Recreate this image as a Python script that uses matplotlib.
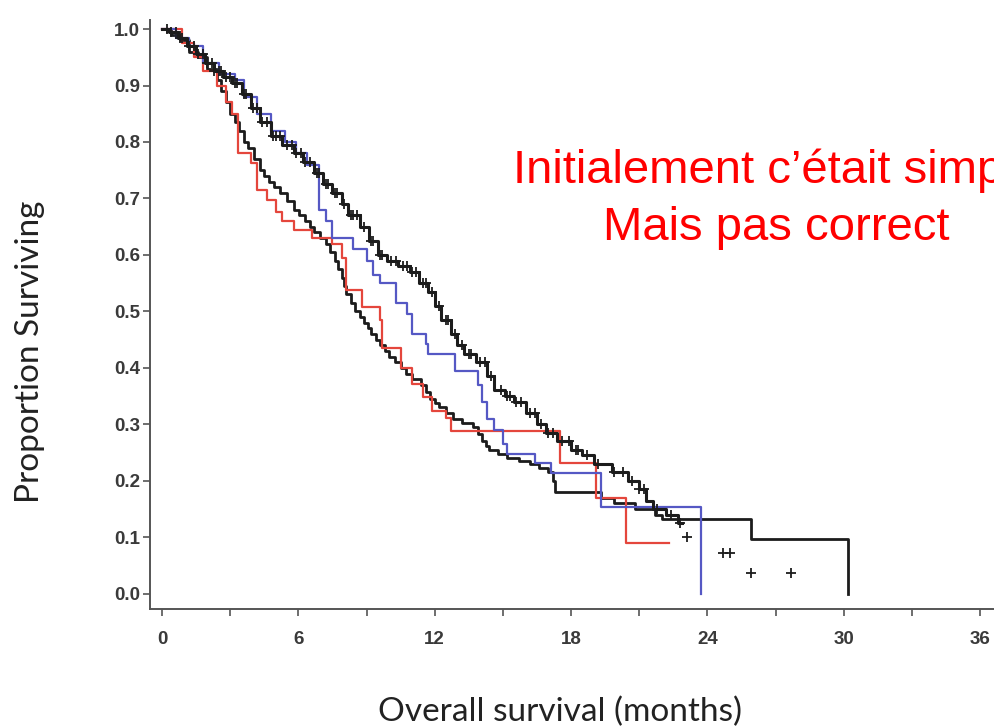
import matplotlib
matplotlib.use("Agg")
import matplotlib.pyplot as plt
import numpy as np

RED = "#e4463c"
BLUE = "#5558c4"
BLACK = "#1c1c1c"
AXIS = "#555555"
TICKTXT = "#3a3a3a"

# Kaplan-Meier curves: (time in months, survival after step)
upper_t = [0, 0.3, 0.7, 1.1, 1.5, 1.9, 2.3, 2.7, 3.1, 3.5, 3.9, 4.3, 4.8, 5.3, 5.8,
           6.2, 6.7, 7.1, 7.5, 7.9, 8.2, 8.7, 9.1, 9.5, 9.9, 10.4, 10.9, 11.3, 11.7,
           12.0, 12.3, 12.7, 13.0, 13.3, 13.8, 14.3, 14.6, 15.1, 15.5, 16.0, 16.5,
           16.9, 17.4, 18.0, 18.5, 19.0, 19.8, 20.5, 21.0, 21.3, 21.6, 22.2, 22.7, 22.9]
upper_s = [1.0, 0.995, 0.985, 0.97, 0.955, 0.94, 0.925, 0.915, 0.905, 0.885, 0.86,
           0.835, 0.81, 0.795, 0.78, 0.765, 0.745, 0.725, 0.71, 0.69, 0.67, 0.65,
           0.625, 0.60, 0.59, 0.58, 0.57, 0.55, 0.535, 0.51, 0.485, 0.46, 0.44,
           0.425, 0.41, 0.385, 0.36, 0.35, 0.34, 0.32, 0.30, 0.285, 0.27, 0.255,
           0.245, 0.23, 0.215, 0.20, 0.185, 0.165, 0.15, 0.14, 0.125, 0.125]
upper_cens = [0.2, 0.4, 0.6, 0.8, 0.9, 1.2, 1.4, 1.6, 1.8, 2.0, 2.2, 2.3, 2.5, 2.6,
              2.8, 3.0, 3.2, 3.3, 3.6, 3.7, 4.0, 4.2, 4.4, 4.6, 4.9, 5.0, 5.2, 5.5,
              5.7, 5.9, 6.1, 6.3, 6.5, 6.8, 6.9, 7.2, 7.3, 7.6, 7.7, 8.0, 8.3, 8.4,
              8.6, 8.9, 9.2, 9.3, 9.6, 9.7, 10.1, 10.3, 10.6, 10.8, 11.0, 11.2, 11.5,
              11.6, 11.9, 12.2, 12.5, 12.6, 12.9, 13.2, 13.5, 13.6, 14.0, 14.2, 14.5,
              14.9, 15.2, 15.3, 15.6, 15.8, 16.2, 16.4, 16.7, 17.0, 17.2, 17.6, 17.9,
              18.2, 18.3, 18.7, 19.2, 19.9, 20.3, 20.7, 21.0, 21.2, 21.8, 22.4, 22.8]
tail_cens_t = [23.1, 24.7, 25.0, 25.9, 27.7]
tail_cens_s = [0.10, 0.073, 0.073, 0.037, 0.037]

lower_t = [0, 0.4, 0.8, 1.2, 1.6, 2.0, 2.4, 2.6, 2.8, 3.0, 3.2, 3.4, 3.6, 3.8, 4.05,
           4.3, 4.5, 4.7, 4.95, 5.2, 5.5, 5.8, 6.05, 6.3, 6.5, 6.7, 6.95, 7.2, 7.4,
           7.6, 7.75, 7.9, 8.0, 8.1, 8.3, 8.5, 8.7, 8.9, 9.05, 9.2, 9.4, 9.6, 9.8,
           10.0, 10.25, 10.5, 10.75, 11.0, 11.4, 11.6, 11.8, 12.0, 12.2, 12.5, 12.8,
           13.2, 13.7, 13.9, 14.1, 14.25, 14.4, 14.8, 15.2, 15.7, 16.2, 16.6, 17.0,
           17.2, 17.3, 19.3, 19.9, 20.8, 21.7, 22.0, 25.9, 30.2]
lower_s = [1.0, 0.99, 0.98, 0.96, 0.95, 0.93, 0.91, 0.89, 0.87, 0.85, 0.835, 0.82,
           0.80, 0.79, 0.77, 0.75, 0.74, 0.73, 0.72, 0.71, 0.695, 0.68, 0.67, 0.66,
           0.65, 0.64, 0.63, 0.62, 0.605, 0.59, 0.575, 0.56, 0.545, 0.53, 0.515,
           0.50, 0.49, 0.48, 0.47, 0.46, 0.45, 0.44, 0.43, 0.42, 0.41, 0.40, 0.39,
           0.38, 0.37, 0.357, 0.345, 0.337, 0.33, 0.32, 0.31, 0.303, 0.295, 0.283,
           0.27, 0.262, 0.255, 0.247, 0.24, 0.235, 0.23, 0.222, 0.215, 0.20, 0.18,
           0.17, 0.16, 0.15, 0.14, 0.133, 0.097, 0.0]

red_t = [0, 0.9, 1.4, 1.8, 2.4, 2.8, 3.1, 3.35, 3.9, 4.2, 4.6, 5.0, 5.3, 5.8, 6.6,
         7.5, 7.9, 8.1, 8.8, 9.6, 9.7, 10.5, 11.0, 11.5, 11.9, 12.5, 12.7, 17.5,
         19.1, 20.4, 22.3]
red_s = [1.0, 0.975, 0.95, 0.925, 0.90, 0.87, 0.85, 0.78, 0.762, 0.715, 0.697,
         0.676, 0.66, 0.645, 0.63, 0.62, 0.595, 0.537, 0.507, 0.484, 0.436, 0.40,
         0.372, 0.348, 0.324, 0.312, 0.289, 0.232, 0.17, 0.089, 0.089]

blue_t = [0, 0.6, 1.2, 1.8, 2.5, 3.2, 3.6, 4.2, 4.8, 5.4, 5.9, 6.4, 6.9, 7.2, 7.5,
          8.4, 9.0, 9.3, 9.6, 10.3, 10.8, 11.0, 11.6, 11.7, 12.9, 13.9, 14.1, 14.3,
          14.6, 15.0, 15.2, 16.4, 17.1, 19.3, 23.7]
blue_s = [1.0, 0.985, 0.97, 0.94, 0.92, 0.91, 0.88, 0.85, 0.82, 0.80, 0.78, 0.76,
          0.68, 0.66, 0.63, 0.61, 0.59, 0.565, 0.55, 0.515, 0.495, 0.46, 0.443,
          0.425, 0.395, 0.37, 0.34, 0.31, 0.29, 0.266, 0.248, 0.232, 0.213, 0.153, 0.0]

x_ticks = [0, 6, 12, 18, 24, 30, 36]
x_minor = [3, 9, 15, 21, 27, 33]
y_ticks = [0.0, 0.1, 0.2, 0.3, 0.4, 0.5, 0.6, 0.7, 0.8, 0.9, 1.0]

fig = plt.figure(figsize=(9.95, 7.28), dpi=100)
ax = fig.add_axes([150 / 995, 119 / 728, 870 / 995, 589 / 728])

ax.step(lower_t, lower_s, where="post", color=BLACK, lw=2.0, zorder=2)
ax.step(red_t, red_s, where="post", color=RED, lw=1.6, zorder=3)
ax.step(blue_t, blue_s, where="post", color=BLUE, lw=1.6, zorder=3)
ax.step(upper_t, upper_s, where="post", color=BLACK, lw=2.2, zorder=4)

# censoring marks on the upper curve
cens_s = [upper_s[np.searchsorted(upper_t, c, side="right") - 1] for c in upper_cens]
ax.plot(upper_cens, cens_s, "+", color=BLACK, ms=6.5, mew=1.3, zorder=5)
ax.plot(tail_cens_t, tail_cens_s, "+", color=BLACK, ms=6.5, mew=1.3, zorder=5)

ax.set_xlim(-0.528, 37.76)
ax.set_ylim(-0.027, 1.016)
ax.spines["top"].set_visible(False)
ax.spines["right"].set_visible(False)
for s in ("left", "bottom"):
    ax.spines[s].set_color(AXIS)
    ax.spines[s].set_linewidth(1.4)

ax.set_xticks(x_ticks)
ax.set_xticks(x_minor, minor=True)
ax.set_yticks(y_ticks)
ax.set_yticklabels([f"{v:.1f}" for v in y_ticks])
ax.tick_params(which="both", direction="out", length=5, width=1.2, color=AXIS)
ax.tick_params(labelsize=13.5, labelcolor=TICKTXT)
ax.tick_params(axis="x", pad=11)
ax.tick_params(axis="y", pad=2)
for lab in ax.get_xticklabels() + ax.get_yticklabels():
    lab.set_fontfamily("Liberation Sans")
    lab.set_fontweight("bold")

ax.set_xlabel("Overall survival (months)", fontsize=24, family="Lato",
              color="#222222", va="center")
ax.xaxis.set_label_coords((560 - 150) / 870, (609 - 712) / 589)
ax.set_ylabel("Proportion Surviving", fontsize=24, family="Lato",
              color="#222222", va="center")
ax.yaxis.set_label_coords((30 - 150) / 870, (609 - 352) / 589)

fig.text(776 / 995, 1 - 183 / 728, "Initialement c\u2019était simple", ha="center",
         va="baseline", color="#ff0000", fontsize=34, family="Liberation Sans")
fig.text(776 / 995, 1 - 240 / 728, "Mais pas correct", ha="center",
         va="baseline", color="#ff0000", fontsize=34, family="Liberation Sans")

fig.savefig("out.png", dpi=100)
